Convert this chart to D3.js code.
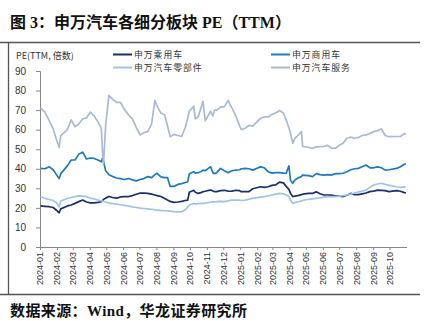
<!DOCTYPE html>
<html><head><meta charset="utf-8">
<script src="https://cdn.jsdelivr.net/npm/d3@7"></script>
<style>
html,body{margin:0;padding:0;background:#fff;}
svg{display:block;}
</style></head>
<body>
<script>
// ---------- data ----------
const dates = [
"2024-01-02","2024-01-10","2024-01-18","2024-01-25","2024-01-31","2024-02-05","2024-02-08","2024-02-20","2024-02-27",
"2024-03-05","2024-03-12","2024-03-19","2024-03-26","2024-04-02","2024-04-09","2024-04-16","2024-04-22","2024-04-24","2024-04-26","2024-04-30",
"2024-05-06","2024-05-13","2024-05-20","2024-05-27","2024-06-03","2024-06-11","2024-06-18","2024-06-25",
"2024-07-02","2024-07-09","2024-07-16","2024-07-23","2024-07-29","2024-08-02","2024-08-09","2024-08-16","2024-08-21","2024-08-26",
"2024-09-02","2024-09-09","2024-09-16","2024-09-23","2024-09-27","2024-09-30",
"2024-10-08","2024-10-11","2024-10-16","2024-10-21","2024-10-25","2024-10-29",
"2024-11-05","2024-11-08","2024-11-12","2024-11-15","2024-11-19","2024-11-26",
"2024-12-03","2024-12-10","2024-12-13","2024-12-17","2024-12-24","2024-12-31",
"2025-01-03","2025-01-10","2025-01-17","2025-01-24","2025-02-07","2025-02-14","2025-02-21","2025-02-28",
"2025-03-07","2025-03-14","2025-03-21","2025-03-26","2025-03-31","2025-04-03","2025-04-07","2025-04-11","2025-04-18","2025-04-23","2025-04-25",
"2025-05-06","2025-05-13","2025-05-20","2025-05-27","2025-06-03","2025-06-10","2025-06-17","2025-06-24",
"2025-07-01","2025-07-08","2025-07-15","2025-07-22","2025-07-29","2025-08-05","2025-08-12","2025-08-19","2025-08-26",
"2025-09-02","2025-09-09","2025-09-16","2025-09-23","2025-09-30","2025-10-14","2025-10-21","2025-10-28","2025-10-31"
];

// 申万乘用车
const passenger = [
21,20.8,20.6,20.2,18.8,17.5,19.5,21,21.5,
22.3,23.2,24,23,22.6,22.6,22.8,23.2,23.5,24.3,25,
25.8,25.3,25,25.6,25.8,25.8,26.3,27,
27.6,27.6,27.4,27,26.6,26.3,25.8,24.8,24,23.3,
22.8,23,23.3,23.8,24,28,
29,28,27.4,27.8,28.3,28.5,
29,29.1,28.6,28.3,28.3,28.8,
29,28.6,28.5,28.6,29,28.8,
28.3,28.3,28.3,29.8,30.8,30.5,30.8,31.5,
31.8,33.2,32.8,31,29.5,27.4,25.8,26,26.4,26.8,27,
27.4,27.4,28.2,27.2,26.6,26.6,26.5,26.1,
26,25.8,26.5,27.4,26.8,26.8,27.2,27.6,28.3,
28.6,29.1,29,28.8,28.3,28.8,28.5,27.8,27.6
];

// 申万商用车
const commercial = [
40.2,40,41,39.5,37,35,37.5,41.5,44.5,
44.5,47.5,48.5,45,45.5,45.3,44.5,43.6,45.3,44,39,
37,36,35.3,35,34.5,35,34.3,33.8,
34.5,35,36,35.5,37,37.7,35.9,35.5,35.5,31,
31,32,32.4,33,33.4,37.5,
38.5,37.8,38,38.5,39.3,39,
40.5,41,38,37.5,38,40.2,
39,38,38.5,39,39.3,39.5,
40,40.2,40,39.3,41,40.5,38.5,37.8,
38,38,37.8,37.7,41.5,34,32.6,34.3,35.5,36,36.8,
36.5,36,37.5,37,36.8,37,36.8,37.5,
37.5,37.7,38.5,39.5,40,40.2,41,41.9,40.5,
40.5,41,40.5,39.3,39.5,40.2,41,42.3,42.6
];

// 申万汽车零部件
const parts = [
25.7,24.9,24.3,23.8,22.6,20.5,23.5,24.8,25.3,
25.8,26.1,26,25.8,25,24.6,24,23.6,23.5,23.3,23,
22.6,22.2,21.9,21.6,21.3,20.9,20.5,20.2,
19.9,19.7,19.5,19.3,19,18.9,18.6,18.6,18.5,18.3,
18.1,18,18.1,19,20.5,21.5,
22.3,22,22.2,22.3,22.3,22.5,
22.8,23,23.2,23,23.2,23.3,
23.2,23.6,23.8,24,24,24,
23.8,24,24.5,24.9,25.5,25.8,26.2,26.6,
27,27.4,27.2,26.6,25.8,24,22.3,22.8,23.2,23.6,23.8,
24.4,24.6,24.9,25.2,25.5,25.8,25.8,25.8,
26,26.3,26.6,27,27.6,28.2,28.6,29.1,30.5,
31.7,32.2,32.6,32,31.5,30.8,30.5,30.7,30.8
];

// 申万汽车服务
const service = [
71,69,64.5,60.5,55,51,57,60,65,
61.5,63,65.5,66,69,67,64,60.7,50,42,62,
77.5,75.5,74,74,70.5,67.5,65.5,61,
57.3,58.5,59,63,75,72,68.5,67.5,62,56.4,
57.6,57,56.5,61.5,66,69.5,
72,65.5,66.5,71,74.5,64.5,
68,69.5,67,70,70,71.5,
71.8,75,73,71,67,62,
60,60.7,62.2,61.8,65.8,66.5,66.5,67.8,
68.5,69.8,68.5,65,61,58,53,55.6,57.5,59,51.5,
51,50.4,51.2,51.3,51.5,52,50.5,50.5,
52,53,55.6,56.2,55.6,56,57,57.3,58.1,
59,59.5,60.5,57,56.4,56.5,56.5,58,57.8
];

const seriesNames = ["申万乘用车","申万商用车","申万汽车零部件","申万汽车服务"];
const seriesColors = ["#1b2f6b","#1f78c6","#9fc4e8","#a9b9d7"];
const yTicks = [0,10,20,30,40,50,60,70,80,90];
const monthTicks = ["2024-01","2024-02","2024-03","2024-04","2024-05","2024-06","2024-07","2024-08","2024-09","2024-10","2024-11","2024-12",
"2025-01","2025-02","2025-03","2025-04","2025-05","2025-06","2025-07","2025-08","2025-09","2025-10"];

// ---------- drawing ----------
const W = 431, H = 321;
const svg = d3.select("body").append("svg").attr("width", W).attr("height", H);

const parseDay = d3.timeParse("%Y-%m-%d");
const parseMonth = d3.timeParse("%Y-%m");
const x = d3.scaleTime().domain([parseDay("2024-01-01"), parseDay("2025-11-01")]).range([40, 406.5]);
const y = d3.scaleLinear().domain([0, 90]).range([247, 71]);

// title & frame
svg.append("text").attr("x", 10).attr("y", 28)
  .attr("font-family", "'Liberation Serif','Noto Sans CJK SC',serif")
  .attr("font-weight", "bold").attr("font-size", 16).attr("fill", "#111")
  .text("图 3：申万汽车各细分板块 PE（TTM）");
svg.append("line").attr("x1", 0).attr("x2", 420).attr("y1", 42.5).attr("y2", 42.5)
  .attr("stroke", "#555").attr("stroke-width", 1.3);
svg.append("line").attr("x1", 8.5).attr("x2", 8.5).attr("y1", 42).attr("y2", 294)
  .attr("stroke", "#555").attr("stroke-width", 1.3);
svg.append("line").attr("x1", 0).attr("x2", 420).attr("y1", 294.5).attr("y2", 294.5)
  .attr("stroke", "#555").attr("stroke-width", 1.3);
svg.append("text").attr("x", 10).attr("y", 315.5)
  .attr("font-family", "'Liberation Serif','Noto Sans CJK SC',serif")
  .attr("font-weight", "bold").attr("font-size", 15).attr("letter-spacing", 0.4).attr("fill", "#111")
  .text("数据来源：Wind，华龙证券研究所");

// axis title
svg.append("text").attr("x", 16).attr("y", 58.5)
  .attr("font-family", "'Noto Sans CJK SC',sans-serif").attr("font-size", 9).attr("fill", "#333")
  .text("PE(TTM, 倍数)");

// legend
const legPos = [[113, 54.5], [271, 54.5], [113, 67.5], [271, 67.5]];
seriesNames.forEach((n, i) => {
  const [lx, ly] = legPos[i];
  svg.append("line").attr("x1", lx).attr("x2", lx + 19).attr("y1", ly).attr("y2", ly)
    .attr("stroke", seriesColors[i]).attr("stroke-width", 2);
  svg.append("text").attr("x", lx + 21).attr("y", ly + 3.3)
    .attr("font-family", "'Noto Sans CJK SC',sans-serif").attr("font-size", 8.8)
    .attr("letter-spacing", 1).attr("fill", "#333").text(n);
});

// axes
const yAxis = svg.append("g").attr("transform", "translate(40,0)")
  .call(d3.axisLeft(y).tickValues(yTicks).tickSize(4).tickPadding(10).tickFormat(d3.format("d")));
yAxis.select(".domain").attr("stroke", "#888");
yAxis.selectAll(".tick line").attr("stroke", "#888");
yAxis.selectAll("text").attr("font-family", "'Liberation Sans',Arial,sans-serif").attr("font-size", 10).attr("fill", "#333");

const xAxis = svg.append("g").attr("transform", "translate(0,247)")
  .call(d3.axisBottom(x).tickValues(monthTicks.map(parseMonth)).tickSize(3).tickSizeOuter(0)
    .tickFormat(d3.timeFormat("%Y-%m")));
xAxis.select(".domain").attr("stroke", "#888");
xAxis.selectAll(".tick line").attr("stroke", "#888");
xAxis.selectAll("text")
  .attr("font-family", "'Liberation Sans',Arial,sans-serif").attr("font-size", 9).attr("fill", "#333")
  .attr("transform", "rotate(-90)").attr("text-anchor", "end")
  .attr("x", -5).attr("y", 0).attr("dy", "0.32em");

// lines
const allSeries = [passenger, commercial, parts, service];
const line = d3.line().x(d => x(d[0])).y(d => y(d[1]));
allSeries.forEach((vals, i) => {
  const pts = dates.map((d, j) => [parseDay(d), vals[j]]);
  svg.append("path").datum(pts).attr("d", line)
    .attr("fill", "none").attr("stroke", seriesColors[i]).attr("stroke-width", 1.7)
    .attr("stroke-linejoin", "round");
});
</script>
</body></html>
